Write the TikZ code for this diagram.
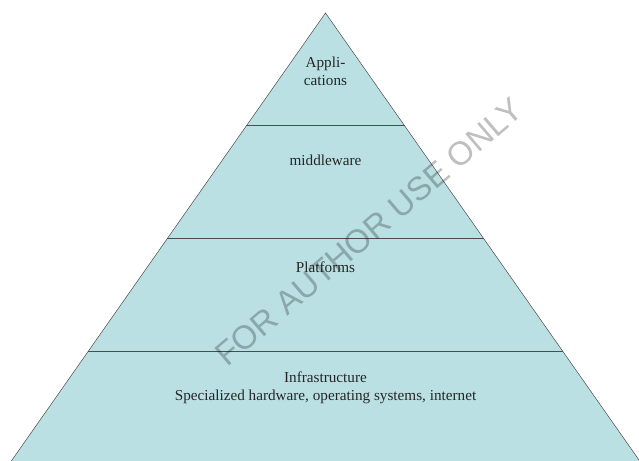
\documentclass[tikz,border=0pt]{standalone}
\usepackage{fontspec}
\setmainfont{Liberation Serif}
\newfontfamily\markfont{Liberation Sans}
\usetikzlibrary{calc}
\definecolor{layerfill}{RGB}{186,224,227}

\begin{document}
\begin{tikzpicture}[x=1pt, y=-1pt,
        layer/.style = {
            align=center,
            text=black!85,
            font=\fontsize{15.2}{18}\selectfont
        },
        divider/.style = {draw=black!70, line width=1.3pt},
        watermark/.style = {
            rotate=40.5,
            text=black,
            text opacity=0.25,
            font=\markfont\fontsize{33}{33}\selectfont
        }]

    \useasboundingbox (0,0) rectangle (639,460);
    \clip (0,0) rectangle (639,460);

    % pyramid outline
    \coordinate (apex) at (325.5,13);
    \coordinate (bl) at (9.2,464);
    \coordinate (br) at (641.8,464);
    \filldraw[fill=layerfill, draw=black!70, line width=0.5pt] (apex) -- (bl) -- (br) -- cycle;

    % layer borders
    \coordinate (l1) at ($(apex)!0.25!(bl)$);
    \coordinate (r1) at ($(apex)!0.25!(br)$);
    \coordinate (l2) at ($(apex)!0.5!(bl)$);
    \coordinate (r2) at ($(apex)!0.5!(br)$);
    \coordinate (l3) at ($(apex)!0.75!(bl)$);
    \coordinate (r3) at ($(apex)!0.75!(br)$);
    \draw[divider] (l1) -- (r1);
    \draw[divider] (l2) -- (r2);
    \draw[divider] (l3) -- (r3);

    \node[layer] (apps) at (325.5,71.5) {Appli-\\cations};
    \node[layer] (mid) at (325.5,160) {middleware};
    \node[layer] (plat) at (325.5,267) {Platforms};
    \node[layer] (infra) at (325.5,387.5) {Infrastructure\\Specialized hardware, operating systems, internet};

    \node[watermark] (mark) at (369,232) {FOR AUTHOR USE ONLY};
\end{tikzpicture}
\end{document}
